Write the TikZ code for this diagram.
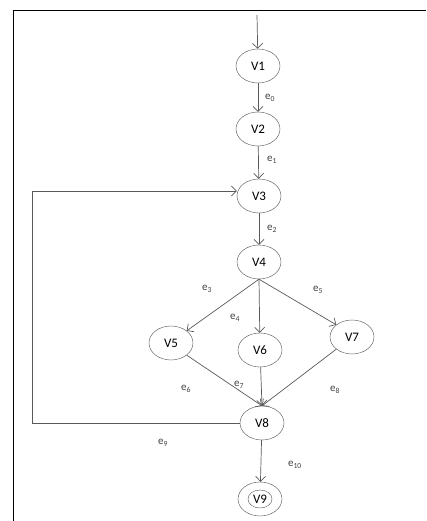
\documentclass[tikz,border=0pt]{standalone}
\usepackage{fontspec}
\setmainfont{Carlito}
\usetikzlibrary{arrows.meta,shapes.geometric}
\begin{document}
\begin{tikzpicture}[x=1pt,y=-1pt,
  vert/.style={draw=black!70,ellipse,minimum width=44pt,minimum height=34pt,inner sep=0pt,font=\fontsize{13}{13}\selectfont},
  edge/.style={draw=black!65,line width=0.7pt,-{Straight Barb[length=5pt,width=10pt]}},
  lab/.style={font=\fontsize{11}{11}\selectfont,text=black!75}]
\useasboundingbox (0,0) rectangle (427,521);
\draw[line width=1pt] (13,521) -- (13,11) -- (426,11);
\node[vert] (v1) at (258,66) {V1};
\node[vert] (v2) at (258,129) {V2};
\node[vert] (v3) at (259,196) {V3};
\node[vert] (v4) at (259,262) {V4};
\node[vert] (v5) at (171,343) {V5};
\node[vert] (v6) at (260,350) {V6};
\node[vert] (v7) at (352,337) {V7};
\node[vert] (v8) at (262,423) {V8};
\node[vert] (v9) at (260,499) {};
\node[draw=black!70,ellipse,minimum width=24pt,minimum height=18pt,inner sep=0pt,font=\fontsize{13}{13}\selectfont] (v9i) at (260,499) {V9};
\coordinate (start) at (257,15);
\coordinate (lb) at (32,423);
\coordinate (lt) at (32,191);
\draw[edge] (start) -- (v1);
\draw[edge] (v1) -- (v2);
\draw[edge] (v2) -- (v3);
\draw[edge] (v3) -- (v4);
\draw[edge] (v4.south) -- (v5.north east);
\draw[edge] (v4.south) -- (v6);
\draw[edge] (v4.south) -- (v7.north west);
\draw[edge] (v5.south east) -- (v8.north);
\draw[edge] (v6) -- (v8.north);
\draw[edge] (v7.south west) -- (v8.north);
\draw[edge] (v8) -- (v9);
\draw[edge] (v8.west) -- (lb) -- (lt) -- (v3.west |- lt);
\node[lab] (e0) at (270,98) {e\textsubscript{0}};
\node[lab] (e1) at (272,160) {e\textsubscript{1}};
\node[lab] (e2) at (272,229) {e\textsubscript{2}};
\node[lab] (e3) at (207,289) {e\textsubscript{3}};
\node[lab] (e4) at (235,318) {e\textsubscript{4}};
\node[lab] (e5) at (318,290) {e\textsubscript{5}};
\node[lab] (e6) at (186,389) {e\textsubscript{6}};
\node[lab] (e7) at (239,385) {e\textsubscript{7}};
\node[lab] (e8) at (335,390) {e\textsubscript{8}};
\node[lab] (e9) at (163,443) {e\textsubscript{9}};
\node[lab] (e10) at (295,465) {e\textsubscript{10}};
\end{tikzpicture}
\end{document}
